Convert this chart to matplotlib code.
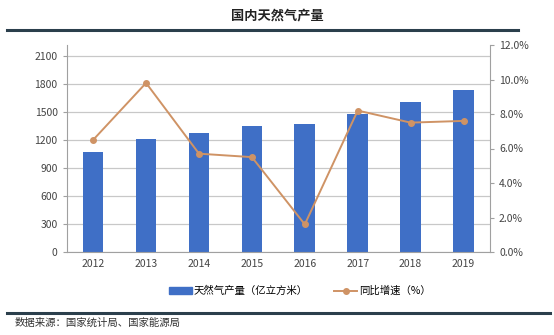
import matplotlib.pyplot as plt
from matplotlib.lines import Line2D
from matplotlib.ticker import FuncFormatter

plt.rcParams['font.family'] = ['Noto Sans CJK SC', 'DejaVu Sans']

# Natural gas output (100 million m3) and year-on-year growth (%)
years = ['2012', '2013', '2014', '2015', '2016', '2017', '2018', '2019']
output = [1072, 1209, 1280, 1346, 1369, 1480, 1603, 1736]
growth = [6.5, 9.8, 5.7, 5.5, 1.6, 8.2, 7.5, 7.6]

bar_color = '#3f6fc6'
line_color = '#cf9365'
grid_color = '#c8c8c8'
spine_color = '#a0a0a0'

fig = plt.figure(figsize=(5.54, 3.35), dpi=100)
W, H = 554, 335
ax = fig.add_axes([66.7 / W, 1 - 252 / H, (490 - 66.7) / W, (252 - 45) / H])

x = range(len(years))
ax.bar(x, output, width=0.39, color=bar_color, zorder=2)
ax.set_xlim(-0.5, len(years) - 0.5)
ax.set_ylim(0, 2100 * 207 / 196)
ax.set_yticks(range(0, 2101, 300))
ax.set_xticks(list(x))
ax.set_xticklabels(years)
ax.grid(axis='y', color=grid_color, linewidth=0.9, zorder=0)
for s in ['top', 'right']:
    ax.spines[s].set_visible(False)
ax.spines['left'].set_color(spine_color)
ax.spines['bottom'].set_color(spine_color)
ax.tick_params(axis='y', labelsize=7.5, colors='#444444', length=3, color=spine_color)
ax.tick_params(axis='x', labelsize=7.5, colors='#444444', length=0, pad=5)

ax2 = ax.twinx()
ax2.plot(x, growth, color=line_color, linewidth=1.4, marker='o', markersize=4, zorder=3)
ax2.set_ylim(0, 12)
ax2.set_yticks(range(0, 13, 2))
ax2.yaxis.set_major_formatter(FuncFormatter(lambda v, p: f'{v:.1f}%'))
for s in ['top', 'left', 'bottom']:
    ax2.spines[s].set_visible(False)
ax2.spines['right'].set_color(spine_color)
ax2.tick_params(axis='y', labelsize=7.5, colors='#444444', length=3, color=spine_color)

# Title, rules and footnote
fig.text(0.5, 1 - 15 / H, '国内天然气产量', ha='center', va='center', fontsize=9.5,
         fontweight='bold', color='#222222')
fig.add_artist(Line2D([7 / W, 518 / W], [1 - 30 / H, 1 - 30 / H], color='#2b3f4c', linewidth=2.2))
fig.add_artist(Line2D([7 / W, 550 / W], [1 - 313 / H, 1 - 313 / H], color='#2b3f4c', linewidth=2.2))
fig.text(15 / W, 1 - 323 / H, '数据来源：国家统计局、国家能源局', ha='left', va='center',
         fontsize=7.5, color='#333333')

handles = [plt.Rectangle((0, 0), 1, 1, color=bar_color),
           Line2D([], [], color=line_color, linewidth=1.4, marker='o', markersize=4)]
fig.legend(handles, ['天然气产量（亿立方米）', '同比增速（%）'], loc='center',
           bbox_to_anchor=(300 / W, 1 - 291 / H), ncol=2, frameon=False, fontsize=7.5,
           handlelength=2.2, handleheight=0.6, columnspacing=2.5, handletextpad=0.2)

fig.savefig('out.png', dpi=100)
